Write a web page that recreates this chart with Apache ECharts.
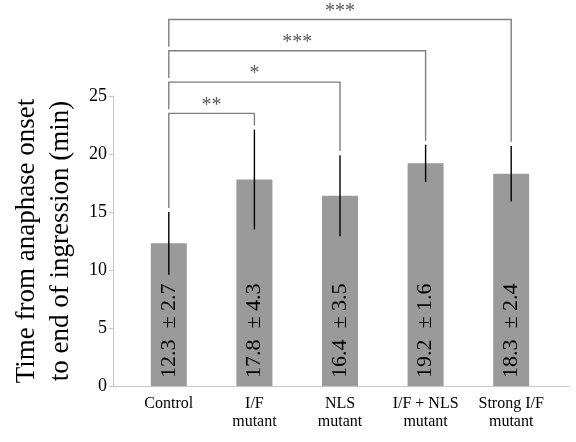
<!DOCTYPE html>
<html>
<head>
<meta charset="utf-8">
<script src="https://cdn.jsdelivr.net/npm/echarts@6/dist/echarts.min.js"></script>
<style>
  html, body { margin: 0; padding: 0; background: #fff; }
  #chart { width: 576px; height: 442px; }
</style>
</head>
<body>
<div id="chart"></div>
<script>
// data
const categories = ['Control', 'I/F\nmutant', 'NLS\nmutant', 'I/F + NLS\nmutant', 'Strong I/F\nmutant'];
const means = [12.3, 17.8, 16.4, 19.2, 18.3];
const errors = [2.7, 4.3, 3.5, 1.6, 2.4];
const yMin = 0, yMax = 25, yStep = 5;

// significance brackets, all from Control to the target category
const sigTargets = [1, 2, 3, 4];
const sigHeights = [23.5, 26.2, 28.9, 31.6];
const sigMarks = ['**', '*', '***', '***'];

const serif = 'Liberation Serif';
const dropGap = 0.35; // space between bracket leg and whatever is below it

const chart = echarts.init(document.getElementById('chart'));

const option = {
  animation: false,
  grid: [
    { left: 126, right: 22, top: 96, bottom: 56 },
    // only used to draw the long baseline like the original
    { left: 113, right: 7, top: 96, bottom: 56 }
  ],
  xAxis: [
    {
      type: 'category',
      data: categories,
      gridIndex: 0,
      axisLine: { show: false },
      axisTick: { show: false },
      axisLabel: { fontFamily: serif, fontSize: 16, lineHeight: 18, color: '#000', margin: 9, interval: 0 }
    },
    {
      type: 'value',
      gridIndex: 1,
      min: 0,
      max: 1,
      axisLine: { show: true, lineStyle: { color: '#c8c8c8', width: 1 } },
      axisTick: { show: false },
      axisLabel: { show: false },
      splitLine: { show: false }
    }
  ],
  yAxis: [
    {
      type: 'value',
      gridIndex: 0,
      min: yMin,
      max: yMax,
      interval: yStep,
      offset: 13,
      name: 'Time from anaphase onset\nto end of ingression (min)',
      nameLocation: 'middle',
      nameGap: 34,
      nameRotate: 90,
      nameTextStyle: { fontFamily: serif, fontSize: 27, lineHeight: 34, color: '#000' },
      axisLine: { show: true, lineStyle: { color: '#c8c8c8', width: 1 } },
      axisTick: { show: true, length: 4, lineStyle: { color: '#c8c8c8' } },
      axisLabel: { fontFamily: serif, fontSize: 18, color: '#000', margin: 6 },
      splitLine: { show: false }
    },
    {
      type: 'value',
      gridIndex: 1,
      min: yMin,
      max: yMax,
      show: false
    }
  ],
  series: [
    {
      type: 'bar',
      xAxisIndex: 0,
      yAxisIndex: 0,
      data: means,
      barWidth: 36,
      itemStyle: { color: '#9a9a9a' },
      label: {
        show: true,
        position: 'insideBottom',
        rotate: 90,
        align: 'left',
        verticalAlign: 'middle',
        distance: 8,
        fontFamily: serif,
        fontSize: 22,
        color: '#000',
        formatter: p => means[p.dataIndex].toFixed(1) + '  \u00b1 ' + errors[p.dataIndex].toFixed(1)
      },
      z: 2
    },
    {
      // error bars (no caps)
      type: 'custom',
      xAxisIndex: 0,
      yAxisIndex: 0,
      data: means.map((m, i) => [i, m - errors[i], m + errors[i]]),
      renderItem: (params, api) => {
        const lo = api.coord([api.value(0), api.value(1)]);
        const hi = api.coord([api.value(0), api.value(2)]);
        return {
          type: 'line',
          shape: { x1: lo[0], y1: lo[1], x2: hi[0], y2: hi[1] },
          style: { stroke: '#000', lineWidth: 1.4 }
        };
      },
      z: 3
    },
    {
      // significance brackets
      type: 'custom',
      xAxisIndex: 0,
      yAxisIndex: 0,
      clip: false,
      data: sigTargets.map((t, i) => [t, sigHeights[i]]),
      renderItem: (params, api) => {
        const i = params.dataIndex;
        const t = sigTargets[i];
        const h = sigHeights[i];
        const leftEnd = i === 0 ? means[0] + errors[0] + dropGap : sigHeights[i - 1] + dropGap;
        const rightEnd = means[t] + errors[t] + dropGap;
        const p1 = api.coord([0, leftEnd]);
        const p2 = api.coord([0, h]);
        const p3 = api.coord([t, h]);
        const p4 = api.coord([t, rightEnd]);
        return {
          type: 'group',
          children: [
            {
              type: 'polyline',
              shape: { points: [p1, p2, p3, p4] },
              style: { stroke: '#7f7f7f', lineWidth: 1.4, fill: null }
            },
            {
              type: 'text',
              style: {
                x: (p2[0] + p3[0]) / 2,
                y: p2[1] - 8,
                text: sigMarks[i],
                align: 'center',
                verticalAlign: 'middle',
                fontFamily: serif,
                fontSize: 20,
                fill: '#595959'
              }
            }
          ]
        };
      },
      z: 4
    }
  ]
};

chart.setOption(option);
</script>
</body>
</html>
